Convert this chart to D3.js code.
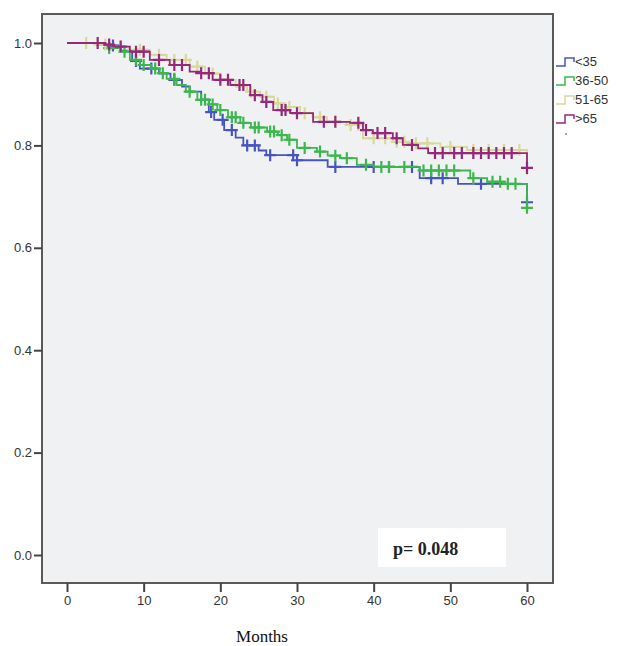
<!DOCTYPE html>
<html>
<head>
<meta charset="utf-8">
<script src="https://cdn.jsdelivr.net/npm/d3@7"></script>
<style>
  body { margin: 0; background: #fff; }
  svg { display: block; }
</style>
</head>
<body>
<div id="wrapper"></div>
<script>
// group labels and colours
const groups = ['<35', '36-50', '51-65', '>65']
const colors = ['#4655be', '#3cb74e', '#d8d89c', '#962878']

// step points [month, survival]
const steps35 = [
  [0, 1], [5, 0.995], [7, 0.985], [8.5, 0.965], [9.5, 0.95], [12, 0.94],
  [13.5, 0.928], [15, 0.915], [16, 0.905], [17.5, 0.89], [18.5, 0.865],
  [19.2, 0.85], [20.5, 0.83], [22, 0.815], [23, 0.8], [25, 0.79],
  [26, 0.781], [30, 0.771], [34, 0.758], [46, 0.736], [51, 0.725], [60, 0.689]
]
const steps50 = [
  [0, 1], [3.9, 0.996], [5, 0.99], [6.9, 0.983], [8.2, 0.967], [9.5, 0.957],
  [11, 0.95], [12.1, 0.941], [13, 0.93], [14.3, 0.918], [15.5, 0.905],
  [17, 0.889], [18.5, 0.88], [19.6, 0.869], [21, 0.855], [22.6, 0.844],
  [24, 0.835], [26.1, 0.827], [27.5, 0.82], [28.7, 0.811], [30, 0.795],
  [32.6, 0.788], [34, 0.78], [35.6, 0.775], [37.8, 0.762], [40, 0.758],
  [46, 0.751], [52.6, 0.736], [54.8, 0.729], [57, 0.725], [60, 0.678]
]
const steps65 = [
  [0, 1], [3.5, 0.997], [6, 0.993], [8, 0.987], [10.8, 0.977], [13, 0.967],
  [16, 0.954], [18, 0.94], [20, 0.928], [22, 0.915], [23.5, 0.905],
  [25.2, 0.895], [27, 0.882], [28.5, 0.875], [30.4, 0.863], [32, 0.855],
  [33.9, 0.846], [36.5, 0.84], [38.6, 0.814], [42.5, 0.807], [44.5, 0.804],
  [48.7, 0.797], [52.2, 0.791], [60, 0.742]
]
const stepsOld = [
  [0, 1], [5, 0.997], [6, 0.993], [8.2, 0.983], [10.8, 0.967], [13.4, 0.957],
  [16, 0.944], [17.3, 0.941], [19, 0.928], [21.3, 0.918], [23.9, 0.898],
  [25.5, 0.885], [26.9, 0.869], [29.1, 0.863], [32.1, 0.846], [36.9, 0.844],
  [38.6, 0.83], [39.9, 0.824], [42.5, 0.814], [43.8, 0.801], [45.8, 0.794],
  [47.1, 0.785], [60, 0.756]
]

// censored months (the "+" marks)
const cens35 = [6, 9, 11, 14, 18.8, 20.3, 21.5, 23.5, 24.5, 26.5, 29.5, 30, 35,
  40, 42, 45, 47.5, 49, 54, 60]
const cens50 = [5.5, 7.5, 9, 10, 11.5, 12.5, 14, 16, 17.5, 18, 19, 20, 21.5, 22,
  23, 24.5, 25, 26.5, 27, 28, 29, 31, 33, 35, 36.5, 39, 41, 42, 44, 46.5, 47.5,
  48.5, 49.5, 50.5, 53, 55.5, 56.5, 57.5, 58.5, 60]
const cens65 = [2.5, 5, 7, 9.5, 12, 14, 15.5, 17, 19, 21, 24, 26, 27.5, 29, 31,
  33, 35, 37, 38, 40, 41.5, 43, 44, 45.5, 47, 50, 53, 55, 57, 59]
const censOld = [4, 5.5, 7, 9, 10, 12, 14, 15, 17.5, 18.5, 20, 21, 22.5, 23, 24.5,
  26, 28, 28.5, 30, 33.5, 35, 38, 39, 40.5, 41.5, 43, 45, 48, 49, 50.5, 51.5,
  53, 54, 55, 56, 57, 58, 60]

const xTicks = [0, 10, 20, 30, 40, 50, 60]
const yTicks = [0, 0.2, 0.4, 0.6, 0.8, 1.0]

const series = [
  { steps: steps35, cens: cens35 },
  { steps: steps50, cens: cens50 },
  { steps: steps65, cens: cens65 },
  { steps: stepsOld, cens: censOld },
]

const width = 618
const height = 646
const frame = { left: 42, right: 553, top: 14, bottom: 583 }

const svg = d3.select('#wrapper')
  .append('svg')
  .attr('width', width)
  .attr('height', height)

const xScale = d3.scaleLinear().domain([0, 60]).range([67, 527])
const yScale = d3.scaleLinear().domain([0, 1]).range([555, 43])

// plot panel
svg.append('rect')
  .attr('x', frame.left)
  .attr('y', frame.top)
  .attr('width', frame.right - frame.left)
  .attr('height', frame.bottom - frame.top)
  .attr('fill', '#f0f1f3')
  .attr('stroke', '#5a5a5a')
  .attr('stroke-width', 2)

// y axis
const yAxis = svg.append('g')
  .attr('transform', `translate(${frame.left},0)`)
  .call(d3.axisLeft(yScale).tickValues(yTicks).tickFormat(d3.format('.1f')).tickSize(8).tickPadding(2))
yAxis.select('.domain').remove()
yAxis.selectAll('line').attr('stroke', '#444').attr('stroke-width', 2)
yAxis.selectAll('text')
  .attr('font-family', 'Liberation Sans, Arial, sans-serif')
  .attr('font-size', 13)
  .attr('fill', '#333')

// x axis
const xAxis = svg.append('g')
  .attr('transform', `translate(0,${frame.bottom})`)
  .call(d3.axisBottom(xScale).tickValues(xTicks).tickSize(9).tickPadding(4))
xAxis.select('.domain').remove()
xAxis.selectAll('line').attr('stroke', '#444').attr('stroke-width', 2)
xAxis.selectAll('text')
  .attr('font-family', 'Liberation Sans, Arial, sans-serif')
  .attr('font-size', 13)
  .attr('fill', '#333')

svg.append('text')
  .attr('x', 262)
  .attr('y', 642)
  .attr('text-anchor', 'middle')
  .attr('font-family', 'Liberation Serif, DejaVu Serif, serif')
  .attr('font-size', 17)
  .attr('fill', '#111')
  .text('Months')

// survival at a given month (last step at or before it)
function survivalAt(steps, t) {
  let v = steps[0][1]
  steps.forEach((s) => { if (s[0] <= t) v = s[1] })
  return v
}

const line = d3.line()
  .x((d) => xScale(d[0]))
  .y((d) => yScale(d[1]))
  .curve(d3.curveStepAfter)

series.forEach((s, i) => {
  const g = svg.append('g').attr('class', 'group')
  g.append('path')
    .attr('d', line(s.steps))
    .attr('fill', 'none')
    .attr('stroke', colors[i])
    .attr('stroke-width', 1.8)

  g.selectAll('.cens')
    .data(s.cens)
    .enter()
    .append('path')
    .attr('class', 'cens')
    .attr('d', (t) => {
      const cx = xScale(t)
      const cy = yScale(survivalAt(s.steps, t))
      return `M${cx - 6},${cy}H${cx + 6}M${cx},${cy - 6}V${cy + 6}`
    })
    .attr('stroke', colors[i])
    .attr('stroke-width', 2.2)
})

// p-value box
svg.append('rect')
  .attr('x', 378)
  .attr('y', 528)
  .attr('width', 128)
  .attr('height', 39)
  .attr('fill', '#fff')
svg.append('text')
  .attr('x', 393)
  .attr('y', 555)
  .attr('font-family', 'Liberation Serif, DejaVu Serif, serif')
  .attr('font-size', 18)
  .attr('font-weight', 'bold')
  .attr('fill', '#222')
  .text('p= 0.048')

// legend
const legend = svg.append('g')
groups.forEach((name, i) => {
  const y = 62 + i * 19
  legend.append('path')
    .attr('d', `M556,${y + 4}H565V${y - 4}H574V${y}`)
    .attr('fill', 'none')
    .attr('stroke', colors[i])
    .attr('stroke-width', 1.5)
  legend.append('text')
    .attr('x', 575)
    .attr('y', y + 4)
    .attr('font-family', 'Liberation Sans, Arial, sans-serif')
    .attr('font-size', 13)
    .attr('fill', '#333')
    .text(name)
})
// small censored-mark entry under the legend
legend.append('circle')
  .attr('cx', 566)
  .attr('cy', 62 + 4 * 19 - 4)
  .attr('r', 1)
  .attr('fill', '#888')
</script>
</body>
</html>
